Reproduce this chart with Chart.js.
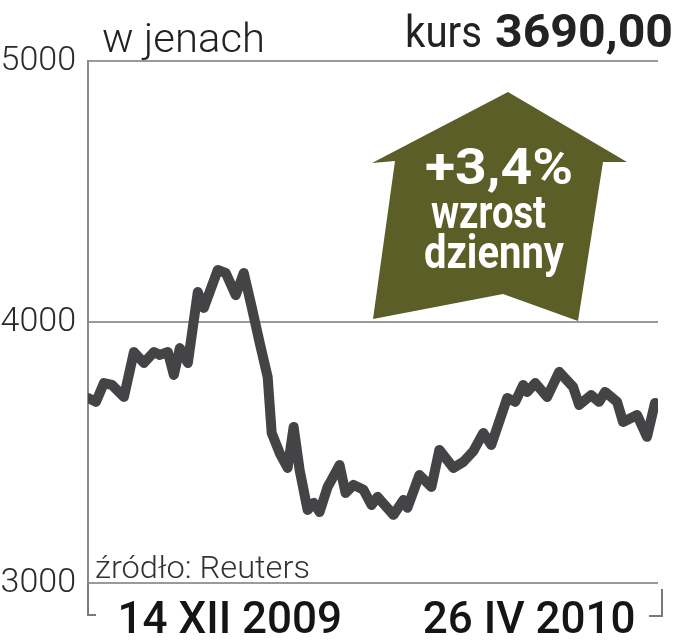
<!DOCTYPE html>
<html>
<head>
<meta charset="utf-8">
<script src="https://cdn.jsdelivr.net/npm/chart.js@4.4.1/dist/chart.umd.min.js"></script>
<style>
  html, body { margin: 0; padding: 0; background: #fff; }
  #wrap { width: 676px; height: 640px; position: relative; }
</style>
</head>
<body>
<div id="wrap"><canvas id="kursChart"></canvas></div>
<script>
// dni sesyjne (os X) i kurs w jenach
const days = [0, 2, 4, 6, 9, 11.5, 14, 16.5, 18, 20, 21.5, 23, 25, 27.5, 29, 32.5, 34.5, 37, 39, 41,
  43, 45, 46, 48, 50, 51.5, 53, 55, 56.5, 58, 60, 61, 63, 64.5, 66.5, 69, 71, 72.5,
  76.5, 79, 80, 83, 86, 88, 91.5, 94, 96.5, 99, 101, 105, 107, 109, 110, 112, 115,
  118, 121.5, 123, 126, 128, 129.5, 132.5, 134, 137.5, 140, 142];
const prices = [3709, 3694, 3766, 3759, 3713, 3885, 3843, 3885, 3874, 3885, 3797, 3900, 3843, 4115, 4054, 4199, 4188, 4103, 4188, 4057,
  3920, 3789, 3575, 3498, 3441, 3598, 3433, 3280, 3307, 3272, 3368, 3395, 3452, 3345, 3376, 3357, 3299, 3330,
  3261, 3318, 3288, 3414, 3368, 3510, 3441, 3464, 3505, 3575, 3529, 3709, 3694, 3759, 3732, 3766, 3713,
  3809, 3751, 3682, 3720, 3694, 3732, 3694, 3617, 3644, 3560, 3690];

const tickDays = [35.5, 110.5];
const tickLabels = ['14 XII 2009', '26 IV 2010'];
const yTicks = [3000, 4000, 5000];

const FONT = 'Roboto, "Open Sans", sans-serif';

// tekst z dopasowaniem szerokosci (font waski jak w gazecie)
function drawText(ctx, str, x, y, font, color, width) {
  ctx.save();
  ctx.font = font;
  ctx.fillStyle = color;
  ctx.textBaseline = 'alphabetic';
  const m = ctx.measureText(str).width;
  ctx.translate(x, y);
  if (width) ctx.scale(width / m, 1);
  ctx.fillText(str, 0, 0);
  ctx.restore();
}

const decor = {
  id: 'decor',
  beforeDatasetsDraw(chart) {
    const ctx = chart.ctx;
    const base = chart.scales.y.getPixelForValue(4000);
    // strzalka
    ctx.save();
    ctx.fillStyle = '#5b5e27';
    ctx.beginPath();
    ctx.moveTo(508, 92);
    ctx.lineTo(627, 162);
    ctx.lineTo(603, 162);
    ctx.lineTo(578, base - 1);
    ctx.lineTo(503, base - 28);
    ctx.lineTo(373, base - 3);
    ctx.lineTo(395, 161);
    ctx.lineTo(372, 163);
    ctx.closePath();
    ctx.fill();
    ctx.restore();
    drawText(ctx, '+3,4%', 425, 184, '700 50px ' + FONT, '#ffffff', 148);
    drawText(ctx, 'wzrost', 431, 228, '700 47px ' + FONT, '#ffffff', 115);
    drawText(ctx, 'dzienny', 424, 268, '700 47px ' + FONT, '#ffffff', 140);
  },
  afterDraw(chart) {
    const ctx = chart.ctx;
    const a = chart.chartArea;
    drawText(ctx, 'w jenach', 102, 52, '300 41px ' + FONT, '#222', 163);
    drawText(ctx, 'kurs', 405, 47, '400 44px ' + FONT, '#222', 77);
    drawText(ctx, '3690,00', 495, 47, '700 47px ' + FONT, '#222', 178);
    drawText(ctx, 'źródło: Reuters', 95, 578, '300 32px ' + FONT, '#333', 215);

    // nawiasy pod osia
    ctx.save();
    ctx.strokeStyle = '#7a7a7a';
    ctx.lineWidth = 2;
    ctx.beginPath();
    ctx.moveTo(a.left, a.bottom);
    ctx.lineTo(a.left, 615);
    ctx.lineTo(a.left + 8, 615);
    ctx.moveTo(649, 616);
    ctx.lineTo(662, 616);
    ctx.lineTo(662, 589);
    ctx.stroke();
    ctx.restore();
  }
};

new Chart(document.getElementById('kursChart'), {
  type: 'line',
  data: {
    datasets: [{
      data: days.map((d, i) => ({ x: d, y: prices[i] })),
      borderColor: '#444446',
      borderWidth: 10,
      borderJoinStyle: 'round',
      borderCapStyle: 'round',
      pointRadius: 0,
      tension: 0,
      fill: false
    }]
  },
  options: {
    responsive: true,
    maintainAspectRatio: false,
    animation: false,
    devicePixelRatio: 1,
    layout: { padding: { top: 61, right: 18, left: 0, bottom: 0 } },
    plugins: { legend: { display: false }, tooltip: { enabled: false } },
    scales: {
      x: {
        type: 'linear',
        min: 0,
        max: 142.75,
        grid: { display: false },
        border: { display: false },
        afterBuildTicks: s => { s.ticks = tickDays.map(v => ({ value: v })); },
        afterFit: s => { s.height = 57; },
        ticks: {
          autoSkip: false,
          maxRotation: 0,
          padding: 5,
          color: '#151515',
          font: { family: FONT, size: 44, weight: '500' },
          callback: (v, i) => tickLabels[i]
        }
      },
      y: {
        min: 3000,
        max: 5000,
        afterBuildTicks: s => { s.ticks = yTicks.map(v => ({ value: v })); },
        afterFit: s => { s.width = 88; },
        grid: { color: '#9a9a9a', lineWidth: 2, drawTicks: false },
        border: { color: '#8a8a8a', width: 2 },
        ticks: {
          padding: 12,
          color: '#2a2a2a',
          font: { family: FONT, size: 34, weight: '300' },
          callback: v => String(v)
        }
      }
    }
  },
  plugins: [decor]
});
</script>
</body>
</html>
